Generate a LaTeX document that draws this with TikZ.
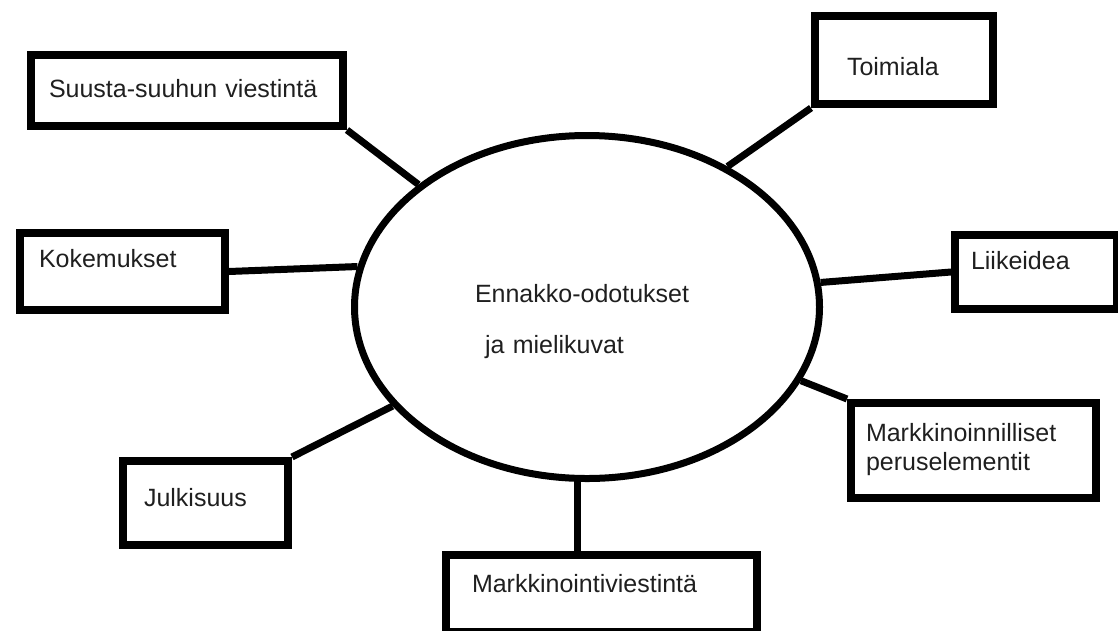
\documentclass[tikz,border=0pt]{standalone}
\usepackage{fontspec}
\setmainfont{Liberation Sans}
\usetikzlibrary{shapes.geometric}

\begin{document}
\begin{tikzpicture}
  [x=1pt,y=-1pt,
   every node/.style={font=\fontsize{25}{29}\selectfont,text=black!88},
   laatikko/.style={draw,line width=8pt,anchor=north west,align=left,inner ysep=0pt},
   yhteys/.style={line width=7pt}]
  \useasboundingbox (0,0) rectangle (1118,630);

  \node[ellipse,draw,line width=7pt,minimum width=465pt,minimum height=343pt,inner sep=0pt,
        text width=224pt,align=left,text height=20pt,text depth=30pt]
    (odotus) at (587,307) {Ennakko-odotukset\\[22pt]\hspace*{10pt}ja mielikuvat};

  \node[laatikko,inner xsep=18pt,text width=276pt,text height=42pt,text depth=29pt] (suusta) at (27,51) {Suusta-suuhun viestintä};
  \node[laatikko,inner xsep=32pt,text width=114pt,text height=59pt,text depth=29pt] (toimiala) at (811,12) {Toimiala};
  \node[laatikko,inner xsep=19pt,text width=167pt,text height=34pt,text depth=43pt] (kokemukset) at (16,229) {Kokemukset};
  \node[laatikko,inner xsep=16pt,text width=130pt,text height=34pt,text depth=40pt] (liikeidea) at (951,231) {Liikeidea};
  \node[laatikko,inner xsep=15pt,text width=215pt,text height=38pt,text depth=57pt] (peruselementit) at (847,399) {Markkinoinnilliset\\peruselementit};
  \node[laatikko,inner xsep=21pt,text width=123pt,text height=45pt,text depth=39pt] (julkisuus) at (119,457) {Julkisuus};
  \node[laatikko,inner xsep=26pt,text width=259pt,text height=37pt,text depth=40pt] (viestinta) at (442,551) {Markkinointiviestintä};

  \foreach \from/\to in {suusta.south east/odotus.144,toimiala.south west/odotus.45,
                         kokemukset.east/odotus.170,liikeidea.west/odotus.6,
                         peruselementit.north west/odotus.-19,julkisuus.north east/odotus.207}
    \draw[yhteys] (\from) -- (\to);
  \draw[yhteys] (odotus.267) -- (odotus.267 |- viestinta.north);

\end{tikzpicture}
\end{document}
